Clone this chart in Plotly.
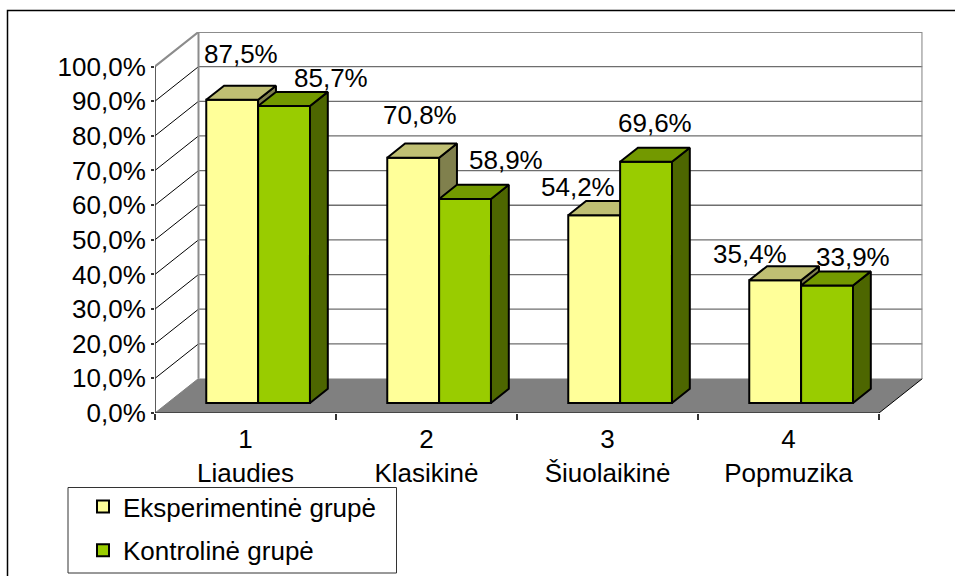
import plotly.graph_objects as go

# Data
categories = ["1<br>Liaudies", "2<br>Klasikinė", "3<br>Šiuolaikinė", "4<br>Popmuzika"]
series_names = ["Eksperimentinė grupė", "Kontrolinė grupė"]
exp_values = [87.5, 70.8, 54.2, 35.4]
ctrl_values = [85.7, 58.9, 69.6, 33.9]
y_ticks = [0, 10, 20, 30, 40, 50, 60, 70, 80, 90, 100]

# Manual label nudges in pixels (label placement only)
exp_label_shift = [(0, 32), (-2, 29), (-25, 14), (-34, 12)]
ctrl_label_shift = [(38, 14), (32, 25), (0, 25), (17, 14)]

# Oblique-projection geometry
W, H = 955, 576
X0, X1, Y0, Y100 = 155, 879, 413, 66.5
DEPTH_PX = (43.5, 34.5)
PX_CAT = (X1 - X0) / 4
PX_PCT = (Y0 - Y100) / 100
DX = DEPTH_PX[0] / PX_CAT
DY = DEPTH_PX[1] / PX_PCT
XMAX, YMAX = 4 + DX, 100 + DY
D_FRONT, D_BACK = 0.29, 0.70
GAP, BW = 0.2135, 0.2865

FONT = "Liberation Sans"
FS = 26


def P(x, y, d=0.0):
    return x + d * DX, y + d * DY


def poly(points, color, axes, line=None, width=0, close=True, mode="lines"):
    pts = [P(*p) for p in points]
    if close:
        pts.append(pts[0])
    return go.Scatter(
        x=[p[0] for p in pts], y=[p[1] for p in pts], mode=mode,
        fill="toself" if close and color else "none", fillcolor=color,
        line=dict(color=line or "rgba(0,0,0,0)", width=width),
        showlegend=False, hoverinfo="skip", xaxis=axes[0], yaxis=axes[1],
    )


fig = go.Figure()
base = ("x", "y")

# Walls, floor, grid
fig.add_trace(poly([(0, 0, 1), (4, 0, 1), (4, 100, 1), (0, 100, 1)], "#FFFFFF", base))
fig.add_trace(poly([(0, 0, 0), (0, 0, 1), (0, 100, 1), (0, 100, 0)], "#FFFFFF", base))
fig.add_trace(poly([(0, 0, 0), (4, 0, 0), (4, 0, 1), (0, 0, 1)], "#808080", base))
for v in y_ticks[1:-1]:
    fig.add_trace(poly([(0, v, 1), (4, v, 1)], None, base, "#6E6E6E", 1.3, False))
    fig.add_trace(poly([(0, v, 0), (0, v, 1)], None, base, "#000000", 1, False))
fig.add_trace(poly([(0, 100, 0), (0, 100, 1), (4, 100, 1), (4, 0, 1)], None, base, "#8C8C8C", 2.2, False))
fig.add_trace(poly([(0, 0, 1), (0, 100, 1)], None, base, "#8C8C8C", 2, False))
fig.add_trace(poly([(4, 0, 0), (4, 0, 1)], None, base, "#000000", 1, False))
fig.add_trace(poly([(0, 0, 0), (0, 0, 1)], None, base, "#808080", 1, False))
fig.add_trace(poly([(0, 100, 0), (0, 0, 0), (4, 0, 0)], None, base, "#333333", 1.6, False))

# Bars: front faces are real bars, side and top faces projected from the same values
groups = [
    (exp_values, 0, series_names[0], "#FFFF99", "#BFBF73", "#80804D", ("x2", "y2")),
    (ctrl_values, 1, series_names[1], "#99CC00", "#739900", "#4D6600", ("x3", "y3")),
]
for vals, idx, name, front, top, side, axes in groups:
    base_y = D_FRONT * DY
    lefts = [i + GAP + idx * BW for i in range(4)]
    fig.add_trace(go.Bar(
        x=[P(l + BW / 2, 0, D_FRONT)[0] for l in lefts], y=vals, base=base_y, width=BW,
        name=name, legendgroup=name, xaxis=axes[0], yaxis=axes[1],
        marker=dict(color=front, line=dict(color="#000000", width=2)), hoverinfo="skip",
    ))
    for l, v in zip(lefts, vals):
        r = l + BW
        fig.add_trace(poly([(r, 0, D_FRONT), (r, 0, D_BACK), (r, v, D_BACK), (r, v, D_FRONT)],
                           side, axes, "#000000", 2))
        fig.add_trace(poly([(l, v, D_FRONT), (r, v, D_FRONT), (r, v, D_BACK), (l, v, D_BACK)],
                           top, axes, "#000000", 2))

# Data labels anchored on the bar tops
annotations = []
for vals, idx, shifts in ((exp_values, 0, exp_label_shift), (ctrl_values, 1, ctrl_label_shift)):
    for i, (v, (sx, sy)) in enumerate(zip(vals, shifts)):
        x, y = P(i + GAP + idx * BW + BW / 2, v, D_BACK)
        x -= (D_BACK - D_FRONT) / 2 * DX
        annotations.append(dict(
            x=x, y=y, xref="x3", yref="y3", text=f"{v:.1f}%".replace(".", ","),
            showarrow=False, xshift=sx, yshift=sy, xanchor="center", yanchor="middle",
            font=dict(family=FONT, size=FS, color="#000000"),
        ))

xdom = [X0 / W, (X0 + XMAX * PX_CAT) / W]
ydom = [1 - Y0 / H, 1 - (Y0 - YMAX * PX_PCT) / H]
hidden_x = dict(range=[0, XMAX], domain=xdom, visible=False, fixedrange=True)
hidden_y = dict(range=[0, YMAX], domain=ydom, visible=False, fixedrange=True)

fig.update_layout(
    width=W, height=H, margin=dict(l=0, r=0, t=0, b=0, autoexpand=False), autosize=False,
    paper_bgcolor="#FFFFFF", plot_bgcolor="rgba(0,0,0,0)", barmode="overlay",
    font=dict(family=FONT, size=FS, color="#000000"),
    xaxis=dict(
        range=[0, XMAX], domain=xdom, showgrid=False, zeroline=False, showline=False, fixedrange=True,
        tickmode="array", tickvals=[0.5, 1.5, 2.5, 3.5], ticktext=categories,
        ticks="outside", ticklen=3, tickcolor="rgba(0,0,0,0)",
        minor=dict(tickmode="array", tickvals=[0, 1, 2, 3, 4], ticks="outside",
                   ticklen=6, tickcolor="#333333", tickwidth=1.5, showgrid=False),
        tickfont=dict(family=FONT, size=FS, color="#000000"),
    ),
    yaxis=dict(
        range=[0, YMAX], domain=ydom, showgrid=False, zeroline=False, showline=False, fixedrange=True,
        tickmode="array", tickvals=y_ticks, ticktext=[f"{v},0%" for v in y_ticks],
        ticks="outside", ticklen=3, tickcolor="#333333", tickwidth=1.5,
        tickfont=dict(family=FONT, size=FS, color="#000000"),
    ),
    xaxis2=dict(hidden_x, overlaying="x", matches="x", anchor="y2"),
    yaxis2=dict(hidden_y, overlaying="y", matches="y", anchor="x2"),
    xaxis3=dict(hidden_x, overlaying="x", matches="x", anchor="y3"),
    yaxis3=dict(hidden_y, overlaying="y", matches="y", anchor="x3"),
    showlegend=True,
    legend=dict(
        x=83 / W, y=1 - 483 / H, xanchor="left", yanchor="top",
        bgcolor="rgba(0,0,0,0)", borderwidth=0,
        font=dict(family=FONT, size=FS, color="#000000"),
        tracegroupgap=7, itemwidth=30, itemclick=False, itemdoubleclick=False,
    ),
    annotations=annotations,
    shapes=[
        dict(type="path", xref="paper", yref="paper",
             path=f"M {7.5 / W} 0 L {7.5 / W} {1 - 10.5 / H} L 1 {1 - 10.5 / H}",
             line=dict(color="#000000", width=1.5), layer="above"),
        dict(type="rect", xref="paper", yref="paper",
             x0=68 / W, x1=396.5 / W, y0=1 - 573 / H, y1=1 - 487.5 / H,
             fillcolor="#FFFFFF", line=dict(color="#333333", width=1), layer="above"),
    ],
)

fig.write_html("out.html", config={"displayModeBar": False},
               post_script="document.body.style.margin='0';document.body.style.overflow='hidden';")
